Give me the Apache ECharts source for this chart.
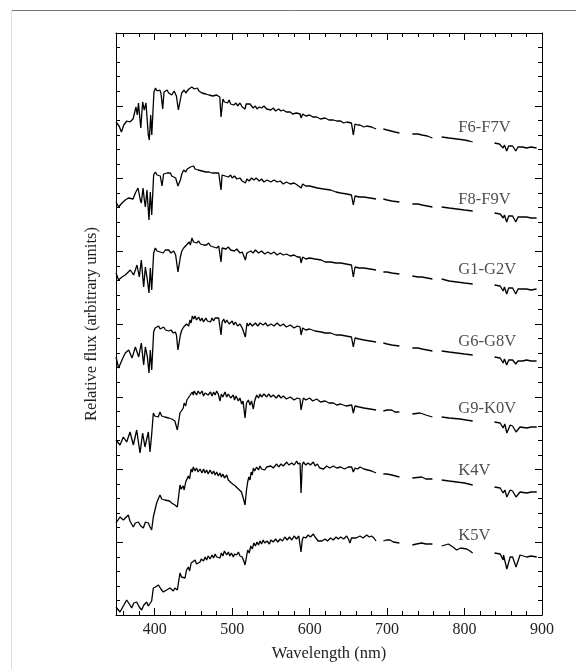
<!DOCTYPE html>
<html>
<head>
<meta charset="utf-8">
<script src="https://cdn.jsdelivr.net/npm/echarts@6/dist/echarts.min.js"></script>
<style>
  html, body { margin: 0; padding: 0; background: #fff; }
  #chart { width: 576px; height: 669px; }
</style>
</head>
<body>
<div id="chart"></div>
<script>
// wavelength (nm) vs relative flux, offset per spectral type (arbitrary units)
var f6 = [[350,493],[354,489],[357,483],[360,490],[364,494],[368,493],[372,496],[375.8,508],[377.5,500],[379,512],[382,487],[384.4,513],[386.5,505],[388.7,512],[391.7,480],[393,475],[394.8,500],[396.2,480],[397.3,478],[399,523],[401,527],[403,524],[405,523],[406.5,525],[408,522],[410.3,506],[412,523],[414,521],[416,525],[418,522],[420,523],[422,520],[425,524],[427,523],[428,519],[430.5,505],[432.6,503],[434.8,522],[436,520],[438,525],[440,522],[442,524],[444,526],[446,524],[448,528],[449.8,529],[451,526],[453,525],[455,527],[457,524],[459,525],[461,522],[463,523],[466,521],[468,523],[470,520],[472,522],[475,519],[477,521],[480,520],[482,518],[484,518],[485.6,498],[488,516],[490,513],[492,515],[494,512],[496,515],[498,511],[500,513],[502,510],[505,512],[507,509],[510,512],[513,508],[516.6,506],[518,511],[520,509],[523,511],[527,507],[530,509],[532,506],[535,508],[538,507],[541,509],[544.5,506],[547,507],[550,505],[553,507],[556,504],[560,506],[563,504],[566,505],[570,503],[575,503],[578,501],[583,502],[587.6,501],[589,497],[591,501],[595,499],[600,500],[604,498],[609,498],[614,496],[620,497],[625,495],[630.6,495],[635,494],[640,494],[644,492],[648,493],[654,492],[656.4,480],[658.6,491],[662,490],[665,490],[670,488],[673.7,489],[680,488],[685.7,486],
  [695.2,486],[700,485],[705,484],[710,483],[715.9,482],
  [732.6,481],[740,481],[745,480],[752,479],[758.5,477],
  [770.5,478],[780,477],[790,476],[800,475],[806,474],[810.5,473],
  [838.7,472],[845,471],[849.8,467],[851.5,470],[854.4,464],[857,469],[862,469],[866.2,464],[869,468],[875,468],[880,467],[886,468],[893,467]];

var f8 = [[350,413],[353.4,408],[357.7,412],[362,415],[366,417],[368.5,418],[372,416],[375,422],[378.4,427],[379.3,429],[381.4,415],[382.7,412],[384.9,427],[386.6,415],[387.9,408],[390,425],[392.6,395],[394.3,423],[396.1,400],[398.6,440],[400.8,443],[403,440],[405,442],[407.2,439],[409.4,429],[411.5,441],[414,439],[416,442],[418,440],[420.2,442],[422,439],[424.5,441],[427,437],[430,429],[433.1,435],[435,441],[437.4,445],[440,443],[442,446],[444,444],[446,448],[448,446],[450.3,449],[452,446],[454,447],[456,445],[458,447],[461,444],[463,446],[466,443],[468,445],[470,443],[472,445],[474,442],[476,444],[478,442],[480,444],[482.6,442],[485.6,425],[487,440],[489,442],[491,439],[493,441],[495,438],[498,440],[500,437],[503,439],[506,436],[510,437],[513,434],[517,432],[519,436],[522,434],[525,437],[528,435],[531,437],[535,434],[538,436],[541,433],[545,435],[550,433],[554,435],[558,433],[562,434],[566,431],[570,433],[575,431],[580,432],[584,430],[589,427],[591,431],[595,429],[600,429],[605,428],[610,427],[618,426],[627,425],[634,423],[640,422],[648,421],[654,420],[656.4,410],[658.6,419],[664,418],[670,418],[678,417],[685.7,416],
  [695.2,416],[700,415],[706,414],[715.9,413],
  [732.6,411],[740,411],[745,410],[758.5,408],
  [770.5,408],[780,407],[790,406],[800,405],[810.5,404],
  [838.7,402],[846,401],[849.8,397],[851.5,400],[854.4,393],[857,399],[862,399],[866.2,393],[869,398],[875,398],[880,398],[886,397],[893,397]];

var g1 = [[350,342],[353.4,335],[357.7,338],[362,340],[364.2,342],[368.5,345],[372.8,340],[377.1,350],[380.1,338],[382.7,355],[385.7,328],[387.9,348],[390.5,335],[392.6,322],[394.3,347],[396.1,325],[398.6,362],[400.8,367],[403,364],[405,366],[407,363],[409,365],[411,362],[413.7,365],[416,363],[418,365],[421,362],[424.5,364],[427,360],[430,343],[433.1,358],[435,364],[437.4,367],[439,365],[441,370],[443,368],[444.5,373],[446,370],[448.1,377],[450,373],[452,375],[454,372],[456.7,374],[459,371],[461,373],[463,370],[465,372],[467,370],[469.6,372],[472,369],[474,371],[476,368],[478,370],[480,367],[482.6,369],[485.6,353],[487,367],[489,369],[492,366],[495,368],[498,365],[500,367],[503,364],[506,366],[510,362],[513,363],[517,355],[519,362],[521,360],[524,364],[527,362],[530,365],[534,362],[538,364],[542,361],[546,363],[550,361],[554,363],[558,360],[562,362],[566,360],[570,361],[575,359],[580,360],[584,358],[587.6,358],[589,352],[591,358],[595,356],[600,357],[607,356],[615,355],[620,353],[627,353],[634,352],[640,352],[647,351],[654,350],[656.4,338],[658.6,348],[664,347],[670,347],[678,346],[685.7,345],
  [695.2,343],[700,343],[706,342],[715.9,341],
  [732.6,339],[740,338],[745,338],[758.5,336],
  [770.5,336],[780,334],[790,333],[800,332],[810.5,331],
  [838.7,330],[846,329],[849.8,324],[851.5,328],[854.4,321],[857,327],[862,327],[866.2,321],[869,326],[875,326],[880,326],[886,325],[893,326]];

var g6 = [[350,258],[353.4,247],[357.7,255],[362,262],[366.4,265],[370.7,257],[375,268],[379.3,258],[382.7,272],[385.7,250],[387.9,268],[390.5,258],[392.6,242],[394.3,265],[396.1,245],[398.6,283],[400.5,287],[402.9,285],[405,289],[407,286],[409.4,284],[411.5,288],[414,285],[416,287],[418,284],[421,285],[424,282],[426.6,283],[428,280],[430,265],[433.1,280],[435,285],[437.4,288],[439,286],[441,291],[443.8,289],[445.5,295],[447,292],[448.5,299],[450.3,296],[452,299],[454,295],[456.7,298],[459,294],[461,297],[463,293],[466,297],[468,294],[470,296],[472,293],[474,297],[476,294],[478,297],[480,295],[482.6,297],[485.6,280],[487,293],[489,296],[491,292],[493,295],[496,291],[500,294],[502,290],[504.1,293],[507,289],[510,291],[513,287],[515,289],[517,278],[519.1,292],[521,289],[523,292],[526,289],[530,292],[533,289],[536,292],[540,290],[543,292],[546,289],[550,291],[554,289],[558,292],[562,289],[566,291],[570,288],[575,290],[580,287],[584,289],[587.6,288],[589,280],[591,287],[595,285],[600,286],[607,284],[615,283],[620,282],[627,282],[634,280],[640,280],[647,279],[654,278],[656.4,268],[658.6,277],[664,276],[670,275],[678,274],[685.7,273],
  [695.2,272],[700,271],[706,270],[715.9,269],
  [732.6,267],[740,267],[745,266],[758.5,264],
  [770.5,264],[780,263],[790,262],[800,261],[810.5,260],
  [838.7,258],[846,257],[849.8,252],[851.5,256],[854.4,250],[857,255],[862,255],[866.2,251],[869,254],[875,254],[880,255],[886,254],[893,254]];

var g9 = [[350,175],[355.2,170],[359.5,178],[363.8,173],[368.1,183],[372.4,170],[376.7,185],[381,162],[384.4,182],[387.4,168],[391.7,183],[393.9,163],[396,180],[398.2,202],[400,199],[402.5,201],[404.5,198],[406.8,203],[409,199],[411,201],[413,198],[415.4,200],[418,197],[420,199],[422,196],[424,197],[426,194],[429.2,185],[432.6,202],[434.5,200],[436.9,207],[438,212],[440,209],[441.5,215],[443.4,213],[445,219],[447,217],[448.5,223],[449.8,220],[451,224],[454,220],[456,224],[458.5,221],[461,224],[463,219],[465,222],[467.1,224],[469,220],[472,223],[474,219],[476,223],[478,220],[480,224],[482,221],[484.3,214],[486,221],[488,218],[490.7,223],[493,218],[495,221],[498,217],[501.5,220],[503,215],[505,219],[508,214],[510,217],[512.3,211],[514,214],[516.6,197],[518.5,212],[520.9,215],[523,210],[525,214],[527.3,206],[529,214],[531.6,220],[534,217],[536,221],[538,218],[541,221],[544.5,218],[547,221],[550,218],[553,220],[557,217],[560,220],[563,217],[566,219],[570,216],[575,218],[580,215],[584,217],[587.6,216],[588.9,205],[591.9,217],[595,215],[600,217],[604,214],[609.1,216],[614,213],[620,214],[625,212],[630.6,212],[635,210],[640,211],[647,209],[654.3,210],[656.4,202],[658.6,209],[664,208],[670,207],[678,206],[685.7,205],
  [695.2,204],[700,205],[706,205],[710,203],[715.9,203],
  [732.6,201],[742.5,202],[750,200],[758.5,198],
  [770.5,198],[780,197],[794.2,196],[802,195],[810.5,194],
  [838.7,193],[846,192],[849.8,187],[852,191],[854.6,182],[858.9,190],[862,189],[866.5,183],[871.6,188],[880.3,187],[886,188],[893.2,188]];

var k4 = [[350,92],[355.2,98],[359.5,95],[365.9,100],[368,94],[372.4,88],[375,92],[378.8,93],[382,89],[385.3,87],[388,93],[391.7,92],[394,88],[396,85],[398.2,98],[400,104],[402.5,112],[404.5,116],[406.8,120],[409,116],[411,118],[413,115],[415.4,117],[419,114],[421.9,112],[424,113],[426,110],[429.2,108],[432.6,130],[434,126],[436.9,129],[438,125],[440,133],[442,131],[443.4,139],[445,136],[447,146],[448.5,143],[449.8,148],[452,144],[454,147],[456,143],[458.5,146],[461,142],[463,146],[465,142],[467,145],[469,141],[471.4,145],[474,141],[476,144],[478,140],[480,143],[482,139],[484.3,142],[486,138],[488,141],[490,137],[492.9,140],[495,135],[497,137],[499,132],[501.5,134],[504,129],[505.8,131],[508,126],[510.1,128],[512,123],[513,125],[515,115],[516.6,110],[518.5,125],[520,133],[521.5,138],[523,135],[524.5,143],[526,140],[527.3,147],[529,144],[531.6,148],[534,145],[535.9,149],[538,146],[540,148],[542,145],[544.5,148],[547,146],[550,149],[553,147],[557.4,151],[560,148],[563,151],[566,149],[570.4,153],[573,150],[577,152],[580,150],[583.3,154],[585,151],[587.6,152],[588.9,122],[590.5,150],[591.9,153],[595,150],[598,152],[601,150],[604.8,153],[607,149],[610,151],[613,147],[615.5,149],[618,146],[622,149],[626,147],[630.6,149],[635,147],[640,148],[645,146],[650,148],[654.3,148],[656.4,143],[658.6,147],[662,146],[665,148],[670,146],[675,145],[680,144],[685.7,142],
  [695.2,141],[700,141],[706,140],[715.9,138],
  [732.6,137],[744.7,138],[750,136],[758.5,136],
  [770.5,135],[780,134],[789.9,133],[800,132],[810.5,130],
  [838.7,128],[846,127],[849.8,122],[852,125],[854.6,118],[858.9,125],[862,124],[866.5,118],[871.6,123],[880.3,122],[886,123],[893.2,123]];

var k5 = [[350,8],[355.2,3],[359.5,9],[363.8,15],[368,10],[370.2,7],[373,12],[376.7,13],[380,8],[383.1,5],[386,10],[389.6,13],[391.7,9],[393.9,8],[396,14],[398.2,27],[401,28],[404.7,30],[408,26],[411.1,23],[415.4,25],[419.7,27],[422,25],[424,24],[426,27],[429.2,25],[432.6,42],[434.5,38],[436.9,37],[439.1,37],[441,45],[443.4,48],[445,44],[447,52],[449,50],[452,55],[454,51],[455,53],[458.5,53],[460,56],[463,54],[465,58],[467,55],[469,59],[471.4,56],[474,60],[476,57],[478,61],[480,58],[482,60],[484.3,57],[486,62],[488,59],[490,64],[492.9,60],[495,63],[497,59],[499,62],[501.5,58],[503,61],[505.8,60],[508,63],[510.1,59],[513,58],[515,54],[516.6,50],[518,56],[520,65],[522,62],[524,69],[526,66],[528,72],[530,69],[532,73],[534,70],[536,74],[538,71],[540,75],[542,72],[545,74],[548,71],[550,75],[553,73],[556,76],[559,73],[562,76],[565,74],[568,78],[571,75],[574,78],[577,75],[580,79],[583,76],[586,79],[587.6,78],[588.9,63],[590.5,75],[592,78],[595,77],[598,80],[601,78],[604.8,81],[607,78],[609,77],[611,74],[613.4,76],[616,74],[620,76],[623,74],[627,77],[630.6,75],[634,78],[637,76],[640,78],[644,76],[647.8,79],[650,76],[652.1,72],[654,77],[656.4,78],[660,77],[665,79],[669,77],[673.7,80],[677,78],[680,79],[683,77],[685.7,74],
  [695.2,74],[699,75],[703.8,75],[708,73],[715.9,72],
  [732.6,70],[738,71],[744.7,72],[750,71],[758.5,71],
  [770.5,69],[779.1,71],[785,68],[789.9,65],[795,67],[802.8,66],[807,64],[810.5,62],
  [838.7,62],[846,61],[849.8,55],[850.3,60],[854.6,46],[858.9,58],[862,58],[866.5,48],[871.6,60],[880.3,58],[886,59],[893.2,58]];

// masked telluric regions -> breaks in the lines
var gaps = [690, 724, 764, 824];

var spectra = [f6, f8, g1, g6, g9, k4, k5];
var spectralTypes = ['F6-F7V', 'F8-F9V', 'G1-G2V', 'G6-G8V', 'G9-K0V', 'K4V', 'K5V'];
var labelLevel = [487, 415, 345, 273, 206, 144, 79];
var labelWavelength = 792;

var majorX = [400, 500, 600, 700, 800, 900];
var minorX = [360, 380, 420, 440, 460, 480, 520, 540, 560, 580, 620, 640, 660, 680,
              720, 740, 760, 780, 820, 840, 860, 880];

function withGaps(points) {
    var out = points.slice();
    gaps.forEach(function (g) { out.push([g, '-']); });
    out.sort(function (a, b) { return a[0] - b[0]; });
    return out;
}

var serif = 'Liberation Serif';
var txt = '#222';

function xAxisDef(pos, values, len, showLine, showLabel) {
    return {
        type: 'value', min: 350, max: 900, position: pos,
        axisLine: { show: showLine, lineStyle: { color: '#000', width: 1 } },
        axisTick: { show: true, inside: true, length: len, customValues: values,
                    lineStyle: { color: '#000', width: 1 } },
        axisLabel: { show: showLabel, customValues: majorX, fontFamily: serif,
                     fontSize: 16, color: txt, margin: 7 },
        splitLine: { show: false }
    };
}

var chart = echarts.init(document.getElementById('chart'));

var xAxes = [
    xAxisDef('bottom', majorX, 7, true, true),
    xAxisDef('bottom', minorX, 4, false, false),
    xAxisDef('top', majorX, 7, true, false),
    xAxisDef('top', minorX, 4, false, false)
];
xAxes[0].name = 'Wavelength (nm)';
xAxes[0].nameLocation = 'middle';
xAxes[0].nameGap = 30;
xAxes[0].nameTextStyle = { fontFamily: serif, fontSize: 16.5, color: txt };

function yAxisDef(pos) {
    return {
        type: 'value', min: 0, max: 582, interval: 72.75, position: pos,
        axisLine: { show: true, lineStyle: { color: '#000', width: 1 } },
        axisTick: { show: true, inside: true, length: 7, lineStyle: { color: '#000' } },
        minorTick: { show: true, splitNumber: 5, length: 4, lineStyle: { color: '#000' } },
        axisLabel: { show: false },
        splitLine: { show: false },
        minorSplitLine: { show: false }
    };
}
var yAxes = [yAxisDef('left'), yAxisDef('right')];
yAxes[0].name = 'Relative flux (arbitrary units)';
yAxes[0].nameLocation = 'middle';
yAxes[0].nameGap = 16;
yAxes[0].nameTextStyle = { fontFamily: serif, fontSize: 16.5, color: txt };

var series = spectra.map(function (s, i) {
    return {
        name: spectralTypes[i],
        type: 'line',
        data: withGaps(s),
        showSymbol: false,
        symbol: 'none',
        connectNulls: false,
        lineStyle: { color: '#000', width: 1.3 },
        silent: true,
        animation: false
    };
});

series.push({
    type: 'scatter',
    symbolSize: 0,
    silent: true,
    animation: false,
    data: spectralTypes.map(function (t, i) {
        return { value: [labelWavelength, labelLevel[i]], name: t };
    }),
    label: {
        show: true, position: 'right', distance: 0,
        formatter: function (p) { return p.name; },
        fontFamily: serif, fontSize: 16.5, color: txt
    }
});

chart.setOption({
    backgroundColor: '#fff',
    animation: false,
    grid: { left: 116, top: 33, width: 426, height: 582, containLabel: false },
    xAxis: xAxes,
    yAxis: yAxes,
    series: series,
    graphic: [
        { type: 'line', shape: { x1: 11, y1: 10.5, x2: 576, y2: 10.5 },
          style: { stroke: '#777', lineWidth: 1 } },
        { type: 'line', shape: { x1: 11.5, y1: 10, x2: 11.5, y2: 669 },
          style: { stroke: '#ddd', lineWidth: 1 } }
    ]
});
</script>
</body>
</html>
